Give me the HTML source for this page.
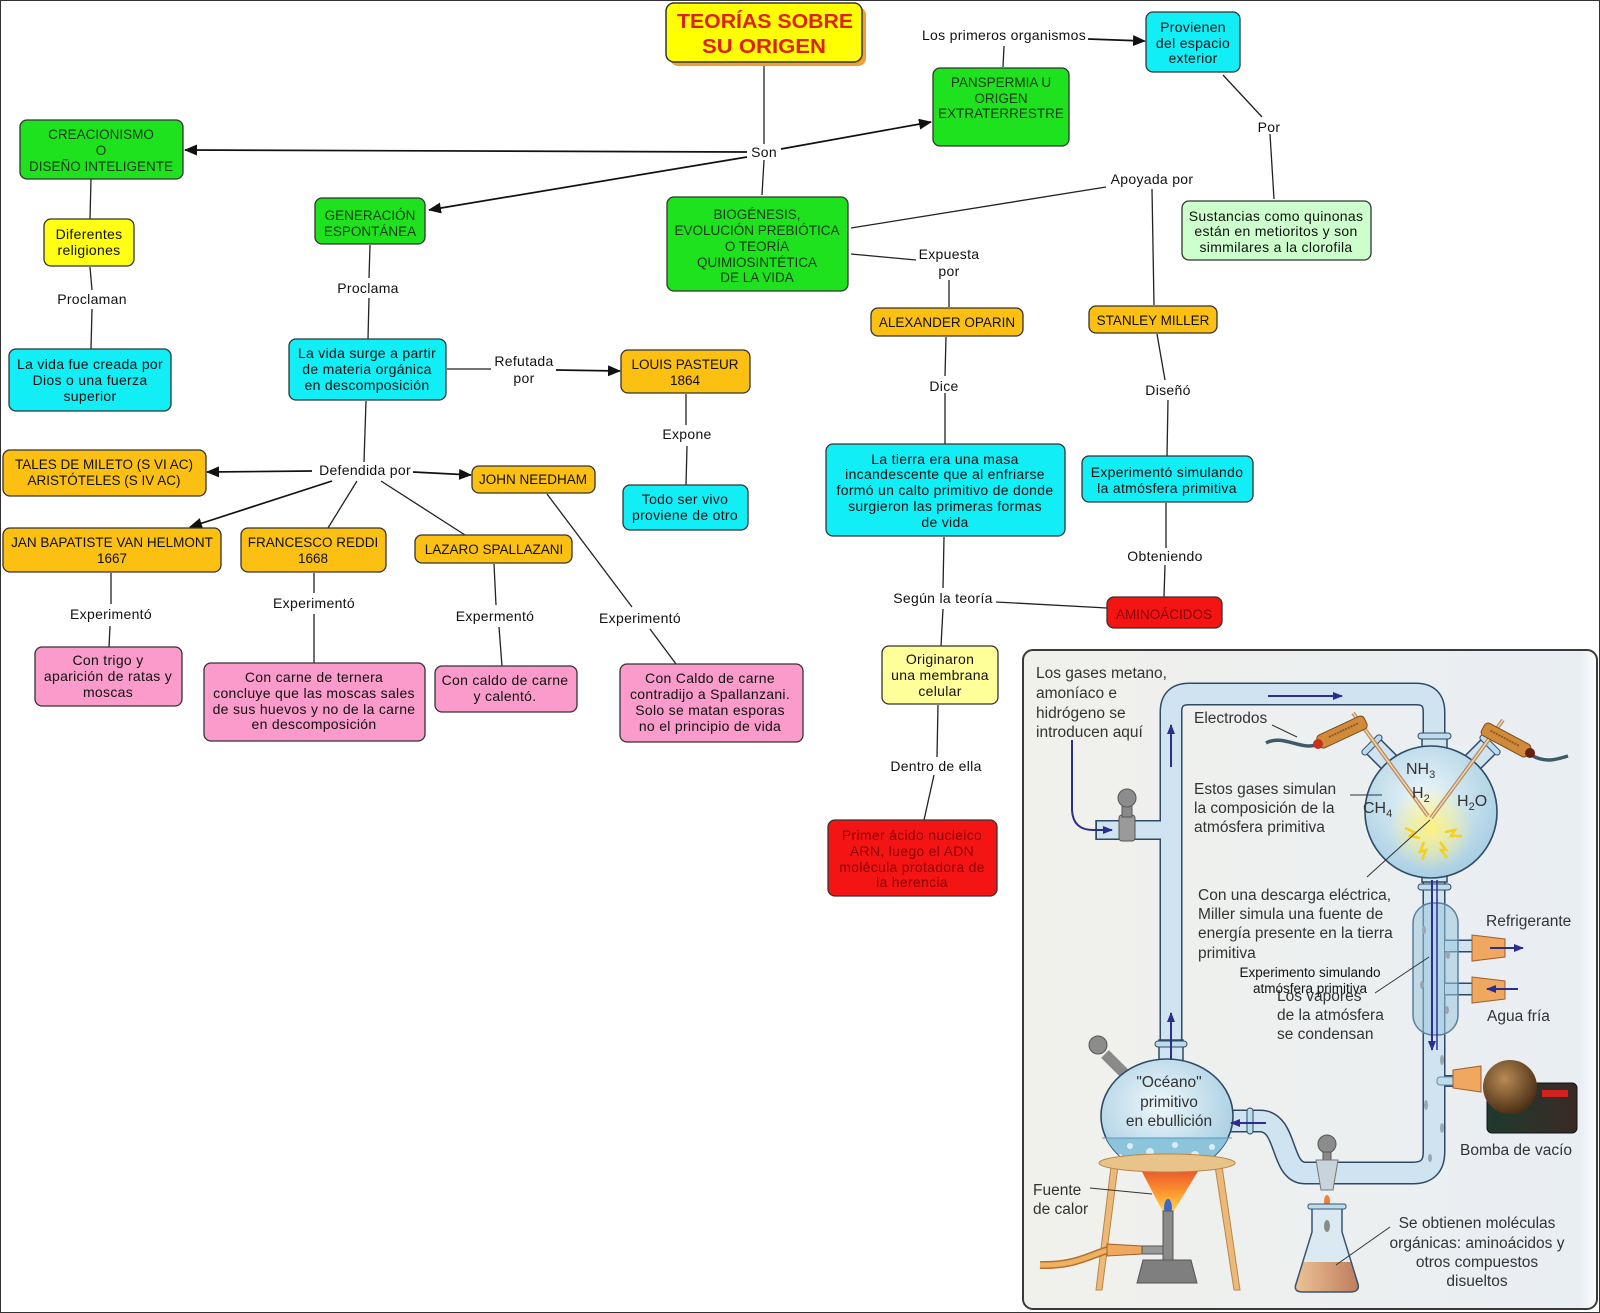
<!DOCTYPE html>
<html><head><meta charset="utf-8">
<style>
html,body{margin:0;padding:0;background:#fff;}
svg{display:block;}
text{font-family:"Liberation Sans",Arial,sans-serif;}
.t{font-size:14px;letter-spacing:0.3px;text-anchor:middle;fill:#111;}
.u{font-size:13.5px;text-anchor:middle;fill:#111;}
.g{font-size:13.5px;text-anchor:middle;fill:#153a15;}
.r{font-size:14px;letter-spacing:0.3px;text-anchor:middle;fill:#8a0000;}
.ru{font-size:13.5px;text-anchor:middle;fill:#8a0000;}
.il{font-size:15.5px;fill:#333;}
.ilc{font-size:15.5px;fill:#333;text-anchor:middle;}
</style></head><body>
<svg width="1600" height="1313" viewBox="0 0 1600 1313" xmlns="http://www.w3.org/2000/svg">
<defs>
<marker id="ah" markerUnits="userSpaceOnUse" markerWidth="13" markerHeight="11" refX="12" refY="5.5" orient="auto"><path d="M0,0 L13,5.5 L0,11 z" fill="#111"/></marker>
<marker id="nb" markerUnits="userSpaceOnUse" markerWidth="10" markerHeight="8" refX="9" refY="4" orient="auto"><path d="M0,0 L10,4 L0,8 z" fill="#2b2e8c"/></marker>
<linearGradient id="panel" x1="0" y1="0" x2="1" y2="0"><stop offset="0" stop-color="#f1f1ec"/><stop offset="0.97" stop-color="#e9eef3"/><stop offset="1" stop-color="#fbfcfd"/></linearGradient>
<radialGradient id="flask" cx="0.45" cy="0.4" r="0.6"><stop offset="0" stop-color="#eef7fb"/><stop offset="1" stop-color="#a9cfe3"/></radialGradient>
<radialGradient id="glow" cx="0.5" cy="0.5" r="0.5"><stop offset="0" stop-color="#fff27a" stop-opacity="0.95"/><stop offset="1" stop-color="#fff27a" stop-opacity="0"/></radialGradient>
<radialGradient id="ball" cx="0.4" cy="0.35" r="0.65"><stop offset="0" stop-color="#b88a55"/><stop offset="1" stop-color="#4e3116"/></radialGradient>
<linearGradient id="pumpbox" x1="0" y1="0" x2="1" y2="0"><stop offset="0" stop-color="#1f3a2e"/><stop offset="1" stop-color="#3a2a24"/></linearGradient>
<linearGradient id="flame" x1="0" y1="0" x2="0" y2="1"><stop offset="0" stop-color="#e8502a"/><stop offset="0.6" stop-color="#ffa030"/><stop offset="1" stop-color="#ffe060"/></linearGradient>
<linearGradient id="liq" x1="0" y1="0" x2="1" y2="0"><stop offset="0" stop-color="#f3c89a"/><stop offset="1" stop-color="#b87658"/></linearGradient>
<clipPath id="oc"><ellipse cx="1167" cy="1116" rx="66" ry="57"/></clipPath>
<clipPath id="er"><path d="M1312,1207 L1342,1207 L1342,1232 L1358,1284 Q1360,1292 1350,1292 L1303,1292 Q1293,1292 1296,1284 L1312,1232 Z"/></clipPath>
</defs>

<rect x="0.5" y="0.5" width="1599" height="1312" fill="#fff" stroke="#333" stroke-width="1"/>

<!-- connectors -->
<g stroke="#222" stroke-width="1.3" fill="none">
<line x1="764" y1="62" x2="764" y2="144"/>
<line x1="764" y1="160" x2="762" y2="195"/>
<line x1="1003" y1="67" x2="1004" y2="46"/>
<line x1="1223" y1="75" x2="1262" y2="117"/>
<line x1="1270" y1="134" x2="1274" y2="199"/>
<line x1="851" y1="228" x2="1106" y2="187"/>
<line x1="1152" y1="189" x2="1154" y2="305"/>
<line x1="851" y1="254" x2="916" y2="260"/>
<line x1="949" y1="280" x2="949" y2="307"/>
<line x1="946" y1="337" x2="945" y2="376"/>
<line x1="945" y1="393" x2="945" y2="444"/>
<line x1="1157" y1="334" x2="1165" y2="380"/>
<line x1="1168" y1="400" x2="1167" y2="456"/>
<line x1="1166" y1="503" x2="1166" y2="548"/>
<line x1="1165" y1="565" x2="1164" y2="597"/>
<line x1="944" y1="537" x2="943" y2="588"/>
<line x1="996" y1="602" x2="1107" y2="608"/>
<line x1="943" y1="609" x2="941" y2="646"/>
<line x1="938" y1="705" x2="937" y2="757"/>
<line x1="934" y1="775" x2="924" y2="820"/>
<line x1="91" y1="179" x2="90" y2="219"/>
<line x1="90" y1="267" x2="92" y2="290"/>
<line x1="92" y1="309" x2="91" y2="349"/>
<line x1="370" y1="245" x2="369" y2="278"/>
<line x1="369" y1="298" x2="368" y2="339"/>
<line x1="447" y1="369" x2="491" y2="369"/>
<line x1="686" y1="394" x2="686" y2="425"/>
<line x1="687" y1="446" x2="686" y2="485"/>
<line x1="366" y1="401" x2="364" y2="462"/>
<line x1="357" y1="481" x2="328" y2="528"/>
<line x1="381" y1="481" x2="465" y2="535"/>
<line x1="547" y1="494" x2="632" y2="607"/>
<line x1="650" y1="629" x2="676" y2="664"/>
<line x1="111" y1="573" x2="111" y2="604"/>
<line x1="110" y1="626" x2="109" y2="647"/>
<line x1="314" y1="573" x2="314" y2="593"/>
<line x1="314" y1="614" x2="314" y2="663"/>
<line x1="494" y1="564" x2="496" y2="605"/>
<line x1="499" y1="627" x2="502" y2="666"/>
</g>
<g stroke="#111" stroke-width="1.7" fill="none" marker-end="url(#ah)">
<line x1="747" y1="152" x2="185" y2="150"/>
<line x1="747" y1="157" x2="429" y2="210"/>
<line x1="781" y1="149" x2="931" y2="122"/>
<line x1="1088" y1="39" x2="1145" y2="41"/>
<line x1="556" y1="370" x2="620" y2="371"/>
<line x1="312" y1="471" x2="207" y2="472"/>
<line x1="413" y1="472" x2="471" y2="475"/>
<line x1="332" y1="481" x2="190" y2="527"/>
</g>

<!-- title -->
<rect x="670" y="7" width="196" height="59" rx="8" fill="#efa030"/>
<rect x="666" y="3" width="196" height="59" rx="8" fill="#ffff00" stroke="#333" stroke-width="1.5"/>
<text x="765" y="28" font-size="20" font-weight="bold" fill="#dd2211" text-anchor="middle" textLength="176" lengthAdjust="spacingAndGlyphs">TEORÍAS SOBRE</text>
<text x="764" y="53" font-size="20" font-weight="bold" fill="#dd2211" text-anchor="middle" textLength="124" lengthAdjust="spacingAndGlyphs">SU ORIGEN</text>

<!-- nodes -->
<g stroke="#333" stroke-width="1.3">
<rect x="20" y="120" width="163" height="59" rx="7" fill="#1ee21e"/>
<rect x="933" y="68" width="136" height="78" rx="7" fill="#1ee21e"/>
<rect x="1146" y="12" width="94" height="60" rx="7" fill="#12eef6"/>
<rect x="315" y="198" width="110" height="46" rx="7" fill="#1ee21e"/>
<rect x="667" y="197" width="181" height="94" rx="7" fill="#1ee21e"/>
<rect x="1182" y="201" width="189" height="59" rx="7" fill="#ccffcc"/>
<rect x="44" y="219" width="90" height="47" rx="7" fill="#ffff14"/>
<rect x="871" y="308" width="152" height="28" rx="7" fill="#fcc012"/>
<rect x="1089" y="306" width="128" height="27" rx="7" fill="#fcc012"/>
<rect x="9" y="349" width="162" height="62" rx="7" fill="#12eef6"/>
<rect x="289" y="339" width="157" height="61" rx="7" fill="#12eef6"/>
<rect x="621" y="350" width="129" height="43" rx="7" fill="#fcc012"/>
<rect x="826" y="444" width="239" height="92" rx="7" fill="#12eef6"/>
<rect x="1082" y="456" width="171" height="46" rx="7" fill="#12eef6"/>
<rect x="3" y="450" width="203" height="46" rx="7" fill="#fcc012"/>
<rect x="472" y="466" width="123" height="27" rx="7" fill="#fcc012"/>
<rect x="623" y="485" width="125" height="45" rx="7" fill="#12eef6"/>
<rect x="3" y="528" width="218" height="44" rx="7" fill="#fcc012"/>
<rect x="241" y="528" width="145" height="44" rx="7" fill="#fcc012"/>
<rect x="415" y="535" width="157" height="28" rx="7" fill="#fcc012"/>
<rect x="1107" y="597" width="115" height="31" rx="7" fill="#f41414"/>
<rect x="35" y="647" width="147" height="59" rx="7" fill="#fb9bcb"/>
<rect x="204" y="663" width="221" height="78" rx="7" fill="#fb9bcb"/>
<rect x="435" y="666" width="142" height="46" rx="7" fill="#fb9bcb"/>
<rect x="620" y="664" width="183" height="78" rx="7" fill="#fb9bcb"/>
<rect x="882" y="646" width="116" height="58" rx="7" fill="#ffff99"/>
<rect x="828" y="820" width="169" height="76" rx="7" fill="#f41414"/>
</g>

<!-- node text -->
<text class="g" x="101" y="139">CREACIONISMO</text>
<text class="g" x="101" y="155">O</text>
<text class="g" x="101" y="171">DISEÑO INTELIGENTE</text>
<text class="g" x="1001" y="87">PANSPERMIA U</text>
<text class="g" x="1001" y="103">ORIGEN</text>
<text class="g" x="1001" y="118">EXTRATERRESTRE</text>
<text class="t" x="1193" y="32">Provienen</text>
<text class="t" x="1193" y="48">del espacio</text>
<text class="t" x="1193" y="63">exterior</text>
<text class="g" x="370" y="220">GENERACIÓN</text>
<text class="g" x="370" y="236">ESPONTÁNEA</text>
<text class="g" x="757" y="219">BIOGÉNESIS,</text>
<text class="g" x="757" y="235">EVOLUCIÓN PREBIÓTICA</text>
<text class="g" x="757" y="251">O TEORÍA</text>
<text class="g" x="757" y="267">QUIMIOSINTÉTICA</text>
<text class="g" x="757" y="282">DE LA VIDA</text>
<text class="t" x="1276" y="221">Sustancias como quinonas</text>
<text class="t" x="1276" y="236">están en metioritos y son</text>
<text class="t" x="1276" y="252">simmilares a la clorofila</text>
<text class="t" x="89" y="239">Diferentes</text>
<text class="t" x="89" y="255">religiones</text>
<text class="u" x="947" y="327">ALEXANDER OPARIN</text>
<text class="u" x="1153" y="325">STANLEY MILLER</text>
<text class="t" x="90" y="369">La vida fue creada por</text>
<text class="t" x="90" y="385">Dios o una fuerza</text>
<text class="t" x="90" y="401">superior</text>
<text class="t" x="367" y="358">La vida surge a partir</text>
<text class="t" x="367" y="374">de materia orgánica</text>
<text class="t" x="367" y="390">en descomposición</text>
<text class="u" x="685" y="369">LOUIS PASTEUR</text>
<text class="u" x="685" y="385">1864</text>
<text class="t" x="945" y="464">La tierra era una masa</text>
<text class="t" x="945" y="479">incandescente que al enfriarse</text>
<text class="t" x="945" y="495">formó un calto primitivo de donde</text>
<text class="t" x="945" y="511">surgieron las primeras formas</text>
<text class="t" x="945" y="527">de vida</text>
<text class="t" x="1167" y="477">Experimentó simulando</text>
<text class="t" x="1167" y="493">la atmósfera primitiva</text>
<text class="u" x="104" y="469">TALES DE MILETO (S VI AC)</text>
<text class="u" x="104" y="485">ARISTÓTELES (S IV AC)</text>
<text class="u" x="533" y="484">JOHN NEEDHAM</text>
<text class="t" x="685" y="504">Todo ser vivo</text>
<text class="t" x="685" y="520">proviene de otro</text>
<text class="u" x="112" y="547">JAN BAPATISTE VAN HELMONT</text>
<text class="u" x="112" y="563">1667</text>
<text class="u" x="313" y="547">FRANCESCO REDDI</text>
<text class="u" x="313" y="563">1668</text>
<text class="u" x="494" y="554">LAZARO SPALLAZANI</text>
<text class="ru" x="1164" y="619">AMINOÁCIDOS</text>
<text class="t" x="108" y="665">Con trigo y</text>
<text class="t" x="108" y="681">aparición de ratas y</text>
<text class="t" x="108" y="697">moscas</text>
<text class="t" x="314" y="682">Con carne de ternera</text>
<text class="t" x="314" y="698">concluye que las moscas sales</text>
<text class="t" x="314" y="714">de sus huevos y no de la carne</text>
<text class="t" x="314" y="729">en descomposición</text>
<text class="t" x="505" y="685">Con caldo de carne</text>
<text class="t" x="505" y="701">y calentó.</text>
<text class="t" x="710" y="683">Con Caldo de carne</text>
<text class="t" x="710" y="699">contradijo a Spallanzani.</text>
<text class="t" x="710" y="715">Solo se matan esporas</text>
<text class="t" x="710" y="731">no el principio de vida</text>
<text class="t" x="940" y="664">Originaron</text>
<text class="t" x="940" y="680">una membrana</text>
<text class="t" x="940" y="696">celular</text>
<text class="r" x="912" y="840">Primer ácido nucleico</text>
<text class="r" x="912" y="856">ARN, luego el ADN</text>
<text class="r" x="912" y="872">molécula protadora de</text>
<text class="r" x="912" y="887">la herencia</text>

<!-- link labels -->
<text class="t" x="764" y="157">Son</text>
<text class="t" x="1004" y="40">Los primeros organismos</text>
<text class="t" x="1269" y="132">Por</text>
<text class="t" x="1152" y="184">Apoyada por</text>
<text class="t" x="949" y="259">Expuesta</text>
<text class="t" x="949" y="276">por</text>
<text class="t" x="92" y="304">Proclaman</text>
<text class="t" x="368" y="293">Proclama</text>
<text class="t" x="524" y="366">Refutada</text>
<text class="t" x="524" y="383">por</text>
<text class="t" x="687" y="439">Expone</text>
<text class="t" x="944" y="391">Dice</text>
<text class="t" x="1168" y="395">Diseñó</text>
<text class="t" x="365" y="475">Defendida por</text>
<text class="t" x="111" y="619">Experimentó</text>
<text class="t" x="314" y="608">Experimentó</text>
<text class="t" x="495" y="621">Expermentó</text>
<text class="t" x="640" y="623">Experimentó</text>
<text class="t" x="1165" y="561">Obteniendo</text>
<text class="t" x="943" y="603">Según la teoría</text>
<text class="t" x="936" y="771">Dentro de ella</text>

<!-- ILLUSTRATION -->
<rect x="1023" y="650" width="574" height="659" rx="10" fill="url(#panel)" stroke="#3a3a3a" stroke-width="2"/>

<!-- tube outlines -->
<g fill="none" stroke="#2e4a66" stroke-linejoin="round">
<path d="M1096,830 L1171,830" stroke-width="20"/>
<path d="M1171,1062 L1171,712 Q1171,694 1189,694 L1416,694 Q1434,694 1434,712 L1434,745" stroke-width="23"/>
<path d="M1434,870 L1434,1152 Q1434,1173 1413,1173 L1305,1173 C1280,1173 1288,1121 1260,1121 L1226,1121" stroke-width="23"/>
<path d="M1434,1081 L1454,1081" stroke-width="12"/>
<path d="M1445,946 L1473,946 M1445,989 L1473,989" stroke-width="13"/>
</g>
<g fill="none" stroke="#cfe4f0" stroke-linejoin="round">
<path d="M1097,830 L1171,830" stroke-width="17"/>
<path d="M1171,1062 L1171,712 Q1171,694 1189,694 L1416,694 Q1434,694 1434,712 L1434,745" stroke-width="20"/>
<path d="M1434,870 L1434,1152 Q1434,1173 1413,1173 L1305,1173 C1280,1173 1288,1121 1260,1121 L1226,1121" stroke-width="20"/>
<path d="M1434,1081 L1453,1081" stroke-width="9"/>
<path d="M1445,946 L1472,946 M1445,989 L1472,989" stroke-width="10"/>
</g>
<path d="M1096,820 L1096,840" stroke="#2e4a66" stroke-width="1.5"/>

<!-- input stopcock -->
<rect x="1119" y="815" width="16" height="26" rx="3" fill="#9a9a9a" stroke="#555"/>
<rect x="1122" y="805" width="10" height="12" fill="#8a8a8a" stroke="#555"/>
<circle cx="1127" cy="798" r="9" fill="#8c8c8c" stroke="#555"/>

<!-- spark flask -->
<g transform="translate(1384,757) rotate(-45)"><rect x="-10" y="-18" width="20" height="26" fill="#cfe4f0" stroke="#2e4a66" stroke-width="1.5"/><rect x="-13" y="-20" width="26" height="6" rx="3" fill="#bcdcec" stroke="#2e4a66"/></g>
<g transform="translate(1478,757) rotate(45)"><rect x="-10" y="-18" width="20" height="26" fill="#cfe4f0" stroke="#2e4a66" stroke-width="1.5"/><rect x="-13" y="-20" width="26" height="6" rx="3" fill="#bcdcec" stroke="#2e4a66"/></g>
<rect x="1422" y="738" width="25" height="16" fill="#cfe4f0" stroke="#2e4a66" stroke-width="1.5"/>
<rect x="1422" y="866" width="25" height="16" fill="#cfe4f0" stroke="#2e4a66" stroke-width="1.5"/>
<circle cx="1431" cy="812" r="66" fill="url(#flask)" stroke="#2e4a66" stroke-width="1.6"/>
<rect x="1418" y="733" width="33" height="6" rx="3" fill="#bcdcec" stroke="#2e4a66"/>
<rect x="1418" y="884" width="33" height="6" rx="3" fill="#bcdcec" stroke="#2e4a66"/>
<circle cx="1431" cy="828" r="42" fill="url(#glow)"/>
<g stroke="#f5d020" stroke-width="2.5" fill="none">
<polyline points="1405,828 1414,832 1410,836 1420,838"/>
<polyline points="1445,832 1455,830 1451,836 1462,836"/>
<polyline points="1424,842 1420,852 1426,850 1422,860"/>
<polyline points="1440,842 1446,850 1441,850 1447,858"/>
</g>
<!-- electrodes -->
<line x1="1353" y1="713" x2="1428" y2="816" stroke="#b88a5a" stroke-width="4"/>
<line x1="1353" y1="713" x2="1428" y2="816" stroke="#ecd7b6" stroke-width="1.5"/>
<line x1="1503" y1="720" x2="1431" y2="818" stroke="#b88a5a" stroke-width="4"/>
<line x1="1503" y1="720" x2="1431" y2="818" stroke="#ecd7b6" stroke-width="1.5"/>
<path d="M1266,743 C1282,734 1300,750 1316,745" fill="none" stroke="#3d5a66" stroke-width="3.5"/>
<path d="M1531,755 C1545,763 1555,760 1568,756" fill="none" stroke="#3d5a66" stroke-width="3.5"/>
<g transform="translate(1342,732) rotate(-25)"><rect x="-26" y="-7" width="52" height="14" rx="4" fill="#d08a3a" stroke="#7a4a1a"/><line x1="-14" y1="-1" x2="18" y2="-1" stroke="#8a5a2a" stroke-width="2" stroke-dasharray="2,1"/></g>
<circle cx="1318" cy="744" r="5" fill="#c83020"/>
<g transform="translate(1506,740) rotate(28)"><rect x="-26" y="-7" width="52" height="14" rx="4" fill="#d08a3a" stroke="#7a4a1a"/><line x1="-18" y1="-1" x2="14" y2="-1" stroke="#8a5a2a" stroke-width="2" stroke-dasharray="2,1"/></g>
<circle cx="1530" cy="753" r="5" fill="#6a2010"/>
<text x="1406" y="774" font-size="16" fill="#333">NH<tspan font-size="11" dy="4">3</tspan></text>
<text x="1412" y="798" font-size="16" fill="#333">H<tspan font-size="11" dy="4">2</tspan></text>
<text x="1363" y="813" font-size="16" fill="#333">CH<tspan font-size="11" dy="4">4</tspan></text>
<text x="1457" y="806" font-size="16" fill="#333">H<tspan font-size="11" dy="4">2</tspan><tspan dy="-4">O</tspan></text>

<!-- condenser -->
<rect x="1413" y="903" width="45" height="132" rx="20" fill="#9cc6de" fill-opacity="0.55" stroke="#5c7f9c" stroke-width="1.5"/>
<g fill="#9aa7b0"><ellipse cx="1424" cy="930" rx="2" ry="4"/><ellipse cx="1448" cy="955" rx="2" ry="4"/><ellipse cx="1422" cy="985" rx="2" ry="4"/><ellipse cx="1447" cy="1010" rx="2" ry="4"/><ellipse cx="1442" cy="1060" rx="2" ry="5"/><ellipse cx="1426" cy="1105" rx="2" ry="5"/><ellipse cx="1442" cy="1128" rx="2" ry="5"/><ellipse cx="1430" cy="1158" rx="2" ry="4"/></g>
<path d="M1472,935 L1505,939 L1505,957 L1472,961 Z" fill="#f0a860" stroke="#a06030"/>
<path d="M1472,977 L1505,981 L1505,999 L1472,1003 Z" fill="#f0a860" stroke="#a06030"/>

<!-- pump -->
<rect x="1487" y="1083" width="90" height="50" rx="5" fill="url(#pumpbox)" stroke="#111"/>
<rect x="1542" y="1090" width="26" height="7" fill="#d02020"/>
<rect x="1437" y="1077" width="18" height="8" rx="3" fill="#bcdcec" stroke="#6a8aa8"/>
<path d="M1453,1070 L1481,1066 L1481,1092 L1453,1088 Z" fill="#f0a860" stroke="#a06030"/>
<circle cx="1510" cy="1087" r="27" fill="url(#ball)"/>

<!-- ocean flask -->
<rect x="1159" y="1040" width="24" height="28" fill="#cfe4f0" stroke="#2e4a66" stroke-width="1.5"/>
<line x1="1125" y1="1074" x2="1105" y2="1054" stroke="#8a8a8a" stroke-width="11"/>
<circle cx="1098" cy="1045" r="9" fill="#8c8c8c" stroke="#555"/>
<ellipse cx="1167" cy="1116" rx="66" ry="57" fill="url(#flask)" stroke="#2e4a66" stroke-width="1.6"/>
<g clip-path="url(#oc)">
<rect x="1098" y="1138" width="140" height="40" fill="#8cc4dc"/>
<g fill="#d8eef8"><circle cx="1130" cy="1146" r="3"/><circle cx="1150" cy="1152" r="4"/><circle cx="1175" cy="1145" r="3"/><circle cx="1195" cy="1155" r="4"/><circle cx="1212" cy="1147" r="3"/><circle cx="1120" cy="1156" r="2"/><circle cx="1160" cy="1160" r="3"/></g>
</g>
<line x1="1102" y1="1138" x2="1232" y2="1138" stroke="#5a9abc" stroke-width="1"/>
<rect x="1155" y="1041" width="32" height="6" rx="3" fill="#bcdcec" stroke="#2e4a66"/>
<rect x="1247" y="1108" width="6" height="26" rx="3" fill="#bcdcec" stroke="#2e4a66"/>

<!-- stand & burner -->
<path d="M1140,1168 L1200,1168 L1172,1214 L1164,1214 Z" fill="url(#flame)"/>
<ellipse cx="1168" cy="1208" rx="4" ry="9" fill="#3a6ad0"/>
<path d="M1111,1166 L1096,1290 L1102,1290 L1118,1166 Z" fill="#eeb878" stroke="#b5884a"/>
<path d="M1215,1166 L1234,1290 L1240,1290 L1222,1166 Z" fill="#eeb878" stroke="#b5884a"/>
<ellipse cx="1167" cy="1163" rx="68" ry="9" fill="#e9c48a" stroke="#b5884a"/>
<path d="M1040,1265 C1075,1266 1090,1255 1108,1250" fill="none" stroke="#b07030" stroke-width="8"/>
<path d="M1040,1265 C1075,1266 1090,1255 1108,1250" fill="none" stroke="#f0b060" stroke-width="5"/>
<path d="M1107,1244 L1142,1246 L1142,1254 L1107,1256 Z" fill="#f0a860" stroke="#a06030"/>
<rect x="1142" y="1246" width="22" height="8" fill="#9a9a9a" stroke="#555"/>
<rect x="1163" y="1211" width="10" height="56" fill="#8a8a8a" stroke="#555"/>
<path d="M1137,1283 L1143,1260 L1191,1260 L1197,1283 Z" fill="#7f7f7f" stroke="#555"/>

<!-- bottom stopcock & erlenmeyer -->
<circle cx="1327" cy="1144" r="9" fill="#8c8c8c" stroke="#555"/>
<rect x="1323" y="1152" width="8" height="9" fill="#8a8a8a" stroke="#555"/>
<path d="M1316,1160 L1338,1160 L1333,1190 L1321,1190 Z" fill="#c8d4dc" stroke="#777"/>
<ellipse cx="1327" cy="1201" rx="3" ry="6" fill="#f08040"/>
<path d="M1312,1207 L1342,1207 L1342,1232 L1358,1284 Q1360,1292 1350,1292 L1303,1292 Q1293,1292 1296,1284 L1312,1232 Z" fill="#dbeaf2"/>
<g clip-path="url(#er)"><rect x="1290" y="1262" width="75" height="35" fill="url(#liq)"/></g>
<path d="M1312,1207 L1342,1207 L1342,1232 L1358,1284 Q1360,1292 1350,1292 L1303,1292 Q1293,1292 1296,1284 L1312,1232 Z" fill="none" stroke="#3a5570" stroke-width="1.5"/>
<rect x="1308" y="1204" width="38" height="5" rx="2" fill="#bcdcec" stroke="#3a5570"/>
<ellipse cx="1327" cy="1226" rx="3" ry="6" fill="#8a8a8a"/>

<!-- navy arrows -->
<g stroke="#2b2e8c" stroke-width="2" fill="none" marker-end="url(#nb)">
<line x1="1268" y1="696" x2="1342" y2="696"/>
<line x1="1171" y1="767" x2="1171" y2="725"/>
<line x1="1171" y1="1060" x2="1171" y2="1013"/>
<line x1="1432" y1="880" x2="1432" y2="1050"/>
<line x1="1266" y1="1123" x2="1231" y2="1123"/>
<line x1="1490" y1="948" x2="1523" y2="948"/>
<line x1="1518" y1="989" x2="1487" y2="989"/>
<path d="M1072,740 L1072,810 Q1073,830 1093,830 L1112,830"/>
</g>
<line x1="1437" y1="880" x2="1437" y2="1050" stroke="#2b2e8c" stroke-width="1.5"/>

<!-- pointer lines -->
<g stroke="#333" stroke-width="1">
<line x1="1272" y1="725" x2="1297" y2="737"/>
<line x1="1350" y1="795" x2="1382" y2="795"/>
<line x1="1367" y1="877" x2="1430" y2="820"/>
<line x1="1375" y1="993" x2="1429" y2="957"/>
<line x1="1090" y1="1188" x2="1152" y2="1194"/>
<line x1="1390" y1="1227" x2="1336" y2="1265"/>
</g>

<!-- illustration text -->
<text class="il" x="1036" y="678">Los gases metano,</text>
<text class="il" x="1036" y="698">amoníaco e</text>
<text class="il" x="1036" y="718">hidrógeno se</text>
<text class="il" x="1036" y="737">introducen aquí</text>
<text class="il" x="1194" y="723">Electrodos</text>
<text class="il" x="1194" y="794">Estos gases simulan</text>
<text class="il" x="1194" y="813">la composición de la</text>
<text class="il" x="1194" y="832">atmósfera primitiva</text>
<text class="il" x="1198" y="900">Con una descarga eléctrica,</text>
<text class="il" x="1198" y="919">Miller simula una fuente de</text>
<text class="il" x="1198" y="938">energía presente en la tierra</text>
<text class="il" x="1198" y="958">primitiva</text>
<text class="il" x="1277" y="1001">Los vapores</text>
<text class="il" x="1277" y="1020">de la atmósfera</text>
<text class="il" x="1277" y="1039">se condensan</text>
<text x="1310" y="977" font-size="13.5" fill="#111" text-anchor="middle">Experimento simulando</text>
<text x="1310" y="993" font-size="13.5" fill="#111" text-anchor="middle">atmósfera primitiva</text>
<text class="il" x="1486" y="926">Refrigerante</text>
<text class="il" x="1487" y="1021">Agua fría</text>
<text class="il" x="1460" y="1155">Bomba de vacío</text>
<text class="ilc" x="1169" y="1087">"Océano"</text>
<text class="ilc" x="1169" y="1107">primitivo</text>
<text class="ilc" x="1169" y="1126">en ebullición</text>
<text class="il" x="1033" y="1195">Fuente</text>
<text class="il" x="1033" y="1214">de calor</text>
<text class="ilc" x="1477" y="1228">Se obtienen moléculas</text>
<text class="ilc" x="1477" y="1248">orgánicas: aminoácidos y</text>
<text class="ilc" x="1477" y="1267">otros compuestos</text>
<text class="ilc" x="1477" y="1286">disueltos</text>
</svg>
</body></html>
